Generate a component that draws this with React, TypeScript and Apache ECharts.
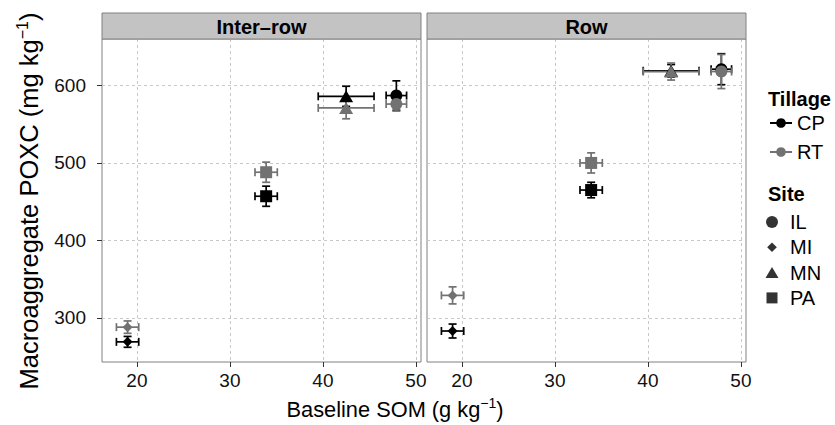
import React, { useEffect, useRef } from 'react';
import * as echarts from 'echarts';

// ---------- data ----------
const panels = ['Inter–row', 'Row'];
const sites = ['IL', 'MI', 'MN', 'PA'];
const tillages = ['CP', 'RT'];
const baselineSOM = [47.9, 19.0, 42.5, 33.9];
const baselineSOMErr = [1.1, 1.2, 3.0, 1.2];
// Inter-row panel
const interCP = [587, 269, 586, 457];
const interCPErr = [19, 7, 13, 13];
const interRT = [576, 288, 571, 488];
const interRTErr = [9, 8, 14, 13];
// Row panel
const rowCP = [621, 283, 619, 465];
const rowCPErr = [20, 9, 8, 10];
const rowRT = [618, 329, 618, 500];
const rowRTErr = [22, 11, 11, 13];
// axes
const xTicks = [20, 30, 40, 50];
const yTicks = [300, 400, 500, 600];

// ---------- styles ----------
const FONT = '"Liberation Sans", Arial, Helvetica, sans-serif';
const BLACK = '#000000';
const GRAY = '#727272';
const tillageColors = [BLACK, GRAY];
const siteSymbols = ['circle', 'path://M0,-1L1,0L0,1L-1,0Z', 'triangle', 'rect'];
const siteSizes: any[] = [12, 10, [14, 12], 12];
const legendIcons = [
  'path://M-7,-7M7,7M-6,0A6,6 0 1 1 6,0A6,6 0 1 1 -6,0Z',
  'path://M-7,-7M7,7M0,-4.8L4.8,0L0,4.8L-4.8,0Z',
  'path://M-7,-7M7,7M0,-5.5L6.5,5.5L-6.5,5.5Z',
  'path://M-7,-7M7,7M-5.5,-5.5L5.5,-5.5L5.5,5.5L-5.5,5.5Z',
];

const X_MIN = 16.25;
const X_MAX = 50.55;
const Y_MIN = 243;
const Y_MAX = 660;

const GRID_TOP = 39;
const GRID_H = 323;
const GRID_W = 319;
const GRID_LEFTS = [102, 427];
const STRIP_H = 26;

const panelValues = [
  [interCP, interRT],
  [rowCP, rowRT],
];
const panelErrors = [
  [interCPErr, interRTErr],
  [rowCPErr, rowRTErr],
];

function errRender(color: string) {
  return (params: any, api: any) => {
    const x = api.value(0);
    const y = api.value(1);
    const xe = api.value(2);
    const ye = api.value(3);
    const c = api.coord([x, y]);
    const l = api.coord([x - xe, y]);
    const r = api.coord([x + xe, y]);
    const t = api.coord([x, y + ye]);
    const b = api.coord([x, y - ye]);
    const cap = 4;
    const style = { stroke: color, lineWidth: 1.7, fill: null };
    const ln = (x1: number, y1: number, x2: number, y2: number) => ({
      type: 'line',
      shape: { x1, y1, x2, y2 },
      style,
    });
    return {
      type: 'group',
      children: [
        ln(l[0], c[1], r[0], c[1]),
        ln(l[0], c[1] - cap, l[0], c[1] + cap),
        ln(r[0], c[1] - cap, r[0], c[1] + cap),
        ln(c[0], t[1], c[0], b[1]),
        ln(c[0] - cap, t[1], c[0] + cap, t[1]),
        ln(c[0] - cap, b[1], c[0] + cap, b[1]),
      ],
    };
  };
}

function buildOption() {
  const grid = GRID_LEFTS.map((left) => ({
    left,
    top: GRID_TOP,
    width: GRID_W,
    height: GRID_H,
    show: true,
    borderColor: '#808080',
    borderWidth: 1,
    backgroundColor: 'transparent',
    containLabel: false,
    outerBoundsMode: 'none',
  }));

  const splitLine = { show: true, lineStyle: { color: '#c8c8c8', width: 1, type: [3, 3] } };

  const xAxis = panels.map((_, i) => ({
    type: 'value',
    gridIndex: i,
    min: X_MIN,
    max: X_MAX,
    axisLine: { show: false },
    axisTick: { show: true, length: 5, inside: false, customValues: xTicks, lineStyle: { color: '#333333', width: 1 } },
    axisLabel: { show: true, customValues: xTicks, fontSize: 19, color: '#111111', fontFamily: FONT, margin: 9 },
    splitLine,
  }));

  const yAxis = panels.map((_, i) => ({
    type: 'value',
    gridIndex: i,
    min: Y_MIN,
    max: Y_MAX,
    axisLine: { show: false },
    axisTick: { show: i === 0, length: 5, customValues: yTicks, lineStyle: { color: '#333333', width: 1 } },
    axisLabel: { show: i === 0, customValues: yTicks, fontSize: 19, color: '#111111', fontFamily: FONT, margin: 16 },
    splitLine,
  }));

  const series: any[] = [];
  panels.forEach((_, p) => {
    tillages.forEach((till, t) => {
      const vals = panelValues[p][t];
      const errs = panelErrors[p][t];
      series.push({
        type: 'custom',
        name: `${till} error ${p}`,
        xAxisIndex: p,
        yAxisIndex: p,
        z: 2,
        renderItem: errRender(tillageColors[t]),
        encode: { x: 0, y: 1 },
        data: sites.map((s, i) => [baselineSOM[i], vals[i], baselineSOMErr[i], errs[i]]),
        silent: true,
      });
    });
  });
  panels.forEach((_, p) => {
    tillages.forEach((till, t) => {
      const vals = panelValues[p][t];
      series.push({
        type: 'scatter',
        name: `${till} points ${p}`,
        xAxisIndex: p,
        yAxisIndex: p,
        z: 3 + t,
        itemStyle: { color: tillageColors[t], opacity: 1 },
        data: sites.map((s, i) => ({
          name: s,
          value: [baselineSOM[i], vals[i]],
          symbol: siteSymbols[i],
          symbolSize: siteSizes[i],
        })),
        silent: true,
      });
    });
  });
  // legend-only series
  tillages.forEach((till, t) => {
    series.push({
      type: 'line',
      name: till,
      xAxisIndex: 0,
      yAxisIndex: 0,
      symbol: 'circle',
      itemStyle: { color: tillageColors[t] },
      lineStyle: { color: tillageColors[t], width: 2 },
      data: [],
    });
  });
  sites.forEach((s, i) => {
    series.push({
      type: 'scatter',
      name: s,
      xAxisIndex: 0,
      yAxisIndex: 0,
      symbol: siteSymbols[i],
      itemStyle: { color: BLACK },
      data: [],
    });
  });

  const legendText = { fontSize: 20, color: '#000000', fontFamily: FONT, lineHeight: 20 };
  const legend = [
    {
      orient: 'vertical',
      left: 769,
      top: 113,
      padding: 0,
      itemWidth: 22,
      itemHeight: 12,
      itemGap: 9,
      selectedMode: false,
      textStyle: legendText,
      data: tillages.map((name) => ({ name })),
    },
    {
      orient: 'vertical',
      left: 765,
      top: 212,
      padding: 0,
      itemWidth: 26,
      itemHeight: 14,
      itemGap: 5.3,
      selectedMode: false,
      textStyle: legendText,
      data: sites.map((name, i) => ({ name, icon: legendIcons[i] })),
    },
  ];

  const graphic: any[] = [];
  panels.forEach((label, p) => {
    graphic.push({
      type: 'rect',
      shape: { x: GRID_LEFTS[p], y: GRID_TOP - STRIP_H, width: GRID_W, height: STRIP_H },
      style: { fill: '#c3c3c3', stroke: '#808080', lineWidth: 1 },
      z: 10,
    });
    graphic.push({
      type: 'text',
      x: GRID_LEFTS[p] + GRID_W / 2,
      y: GRID_TOP - STRIP_H / 2 + 1,
      z: 11,
      style: {
        text: label,
        fill: '#000000',
        fontSize: 20,
        fontWeight: 'bold',
        fontFamily: FONT,
        align: 'center',
        verticalAlign: 'middle',
        textAlign: 'center',
        textVerticalAlign: 'middle',
      },
    });
  });
  const titleStyle = (text: string) => ({
    text,
    fill: '#000000',
    fontSize: 20,
    fontWeight: 'bold',
    fontFamily: FONT,
    align: 'left',
    verticalAlign: 'middle',
    textAlign: 'left',
    textVerticalAlign: 'middle',
  });
  graphic.push({ type: 'text', x: 768, y: 99, style: titleStyle('Tillage') });
  graphic.push({ type: 'text', x: 768, y: 194, style: titleStyle('Site') });

  // axis titles
  graphic.push({
    type: 'text',
    x: 395,
    y: 409,
    style: {
      text: '{a|Baseline SOM (g kg}{s|−1}{a|)}',
      fill: '#000000',
      fontFamily: FONT,
      align: 'center',
      verticalAlign: 'middle',
      textAlign: 'center',
      textVerticalAlign: 'middle',
      rich: {
        a: { fontSize: 21.8, fontFamily: FONT, lineHeight: 26, fill: '#000000' },
        s: { fontSize: 14, fontFamily: FONT, lineHeight: 10, verticalAlign: 'top', fill: '#000000' },
      },
    },
  });
  graphic.push({
    type: 'text',
    x: 29,
    y: 201,
    rotation: Math.PI / 2,
    style: {
      text: '{a|Macroaggregate POXC (mg kg}{s|−1}{a|)}',
      fill: '#000000',
      fontFamily: FONT,
      align: 'center',
      verticalAlign: 'middle',
      textAlign: 'center',
      textVerticalAlign: 'middle',
      rich: {
        a: { fontSize: 25.5, fontFamily: FONT, lineHeight: 30, fill: '#000000' },
        s: { fontSize: 16, fontFamily: FONT, lineHeight: 11, verticalAlign: 'top', fill: '#000000' },
      },
    },
  });

  return {
    animation: false,
    backgroundColor: '#ffffff',
    textStyle: { fontFamily: FONT },
    grid,
    xAxis,
    yAxis,
    legend,
    series,
    graphic,
  };
}

export default function App() {
  const ref = useRef<HTMLDivElement>(null);
  useEffect(() => {
    if (!ref.current) return;
    const chart = echarts.init(ref.current, null, { renderer: 'svg' });
    chart.setOption(buildOption() as any);
    return () => chart.dispose();
  }, []);
  return (
    <div
      ref={ref}
      style={{ position: 'fixed', left: 0, top: 0, width: 835, height: 425 }}
    />
  );
}
